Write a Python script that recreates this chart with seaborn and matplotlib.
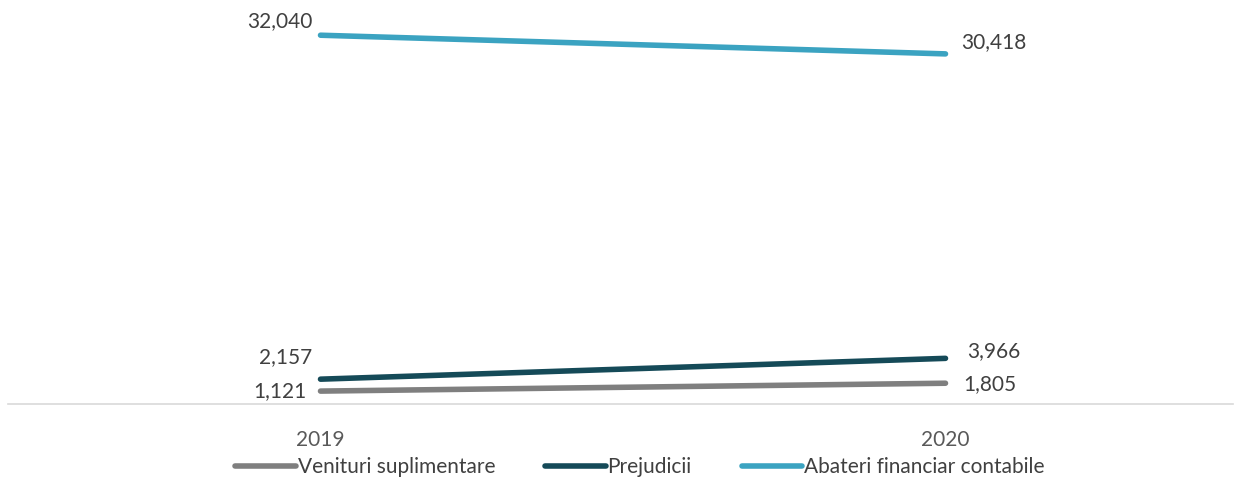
import numpy as np
import pandas as pd
import matplotlib
matplotlib.use("Agg")
import matplotlib.pyplot as plt
import seaborn as sns

# data
years = ["2019", "2020"]
venituri = [1121, 1805]
prejudicii = [2157, 3966]
abateri = [32040, 30418]
series_names = ["Venituri suplimentare", "Prejudicii", "Abateri financiar contabile"]
colors = ["#7f7f7f", "#154a58", "#3ba3c1"]

df = pd.DataFrame({
    "year": years * 3,
    "value": venituri + prejudicii + abateri,
    "series": np.repeat(series_names, len(years)),
})

sns.set_theme(style="white")
plt.rcParams["font.family"] = ["Lato", "DejaVu Sans"]

fig = plt.figure(figsize=(12.45, 4.79), dpi=100)
ax = fig.add_axes([8 / 1245, 75 / 479, 1225 / 1245, 404 / 479])

sns.lineplot(data=df, x="year", y="value", hue="series", palette=colors,
             linewidth=4, ax=ax, legend=False, sort=False)
for line in ax.lines:
    line.set_solid_capstyle("round")

ax.set_xlim(-0.5, 1.46)
ax.set_ylim(0, 35100)
ax.set_yticks([])
ax.set_xlabel("")
ax.set_ylabel("")
for s in ["top", "left", "right"]:
    ax.spines[s].set_visible(False)
ax.spines["bottom"].set_color("#d9d9d9")
ax.spines["bottom"].set_linewidth(1.2)
ax.tick_params(axis="x", length=0, pad=19, labelsize=15, labelcolor="#595959")

# value labels, offsets in pixels (left point, right point) per series
px = 0.72
offsets = [((-14, 0), (18, -1)), ((-8, 22), (22, 7)), ((-8, 14), (16, 12))]
for vals, (off0, off1) in zip([venituri, prejudicii, abateri], offsets):
    ax.annotate(f"{vals[0]:,}", (0, vals[0]), xytext=(off0[0] * px, off0[1] * px),
                textcoords="offset points", ha="right", va="center",
                fontsize=15, color="#404040")
    ax.annotate(f"{vals[1]:,}", (1, vals[1]), xytext=(off1[0] * px, off1[1] * px),
                textcoords="offset points", ha="left", va="center",
                fontsize=15, color="#404040")

handles = [plt.Line2D([], [], color=c, linewidth=4, solid_capstyle="round") for c in colors]
fig.legend(handles, series_names, loc="lower center", bbox_to_anchor=(0.514, -0.036), ncol=3,
           frameon=False, fontsize=15, handlelength=2.9, handletextpad=0.1,
           columnspacing=2.4, labelcolor="#404040")

fig.savefig("out.png", dpi=100)
